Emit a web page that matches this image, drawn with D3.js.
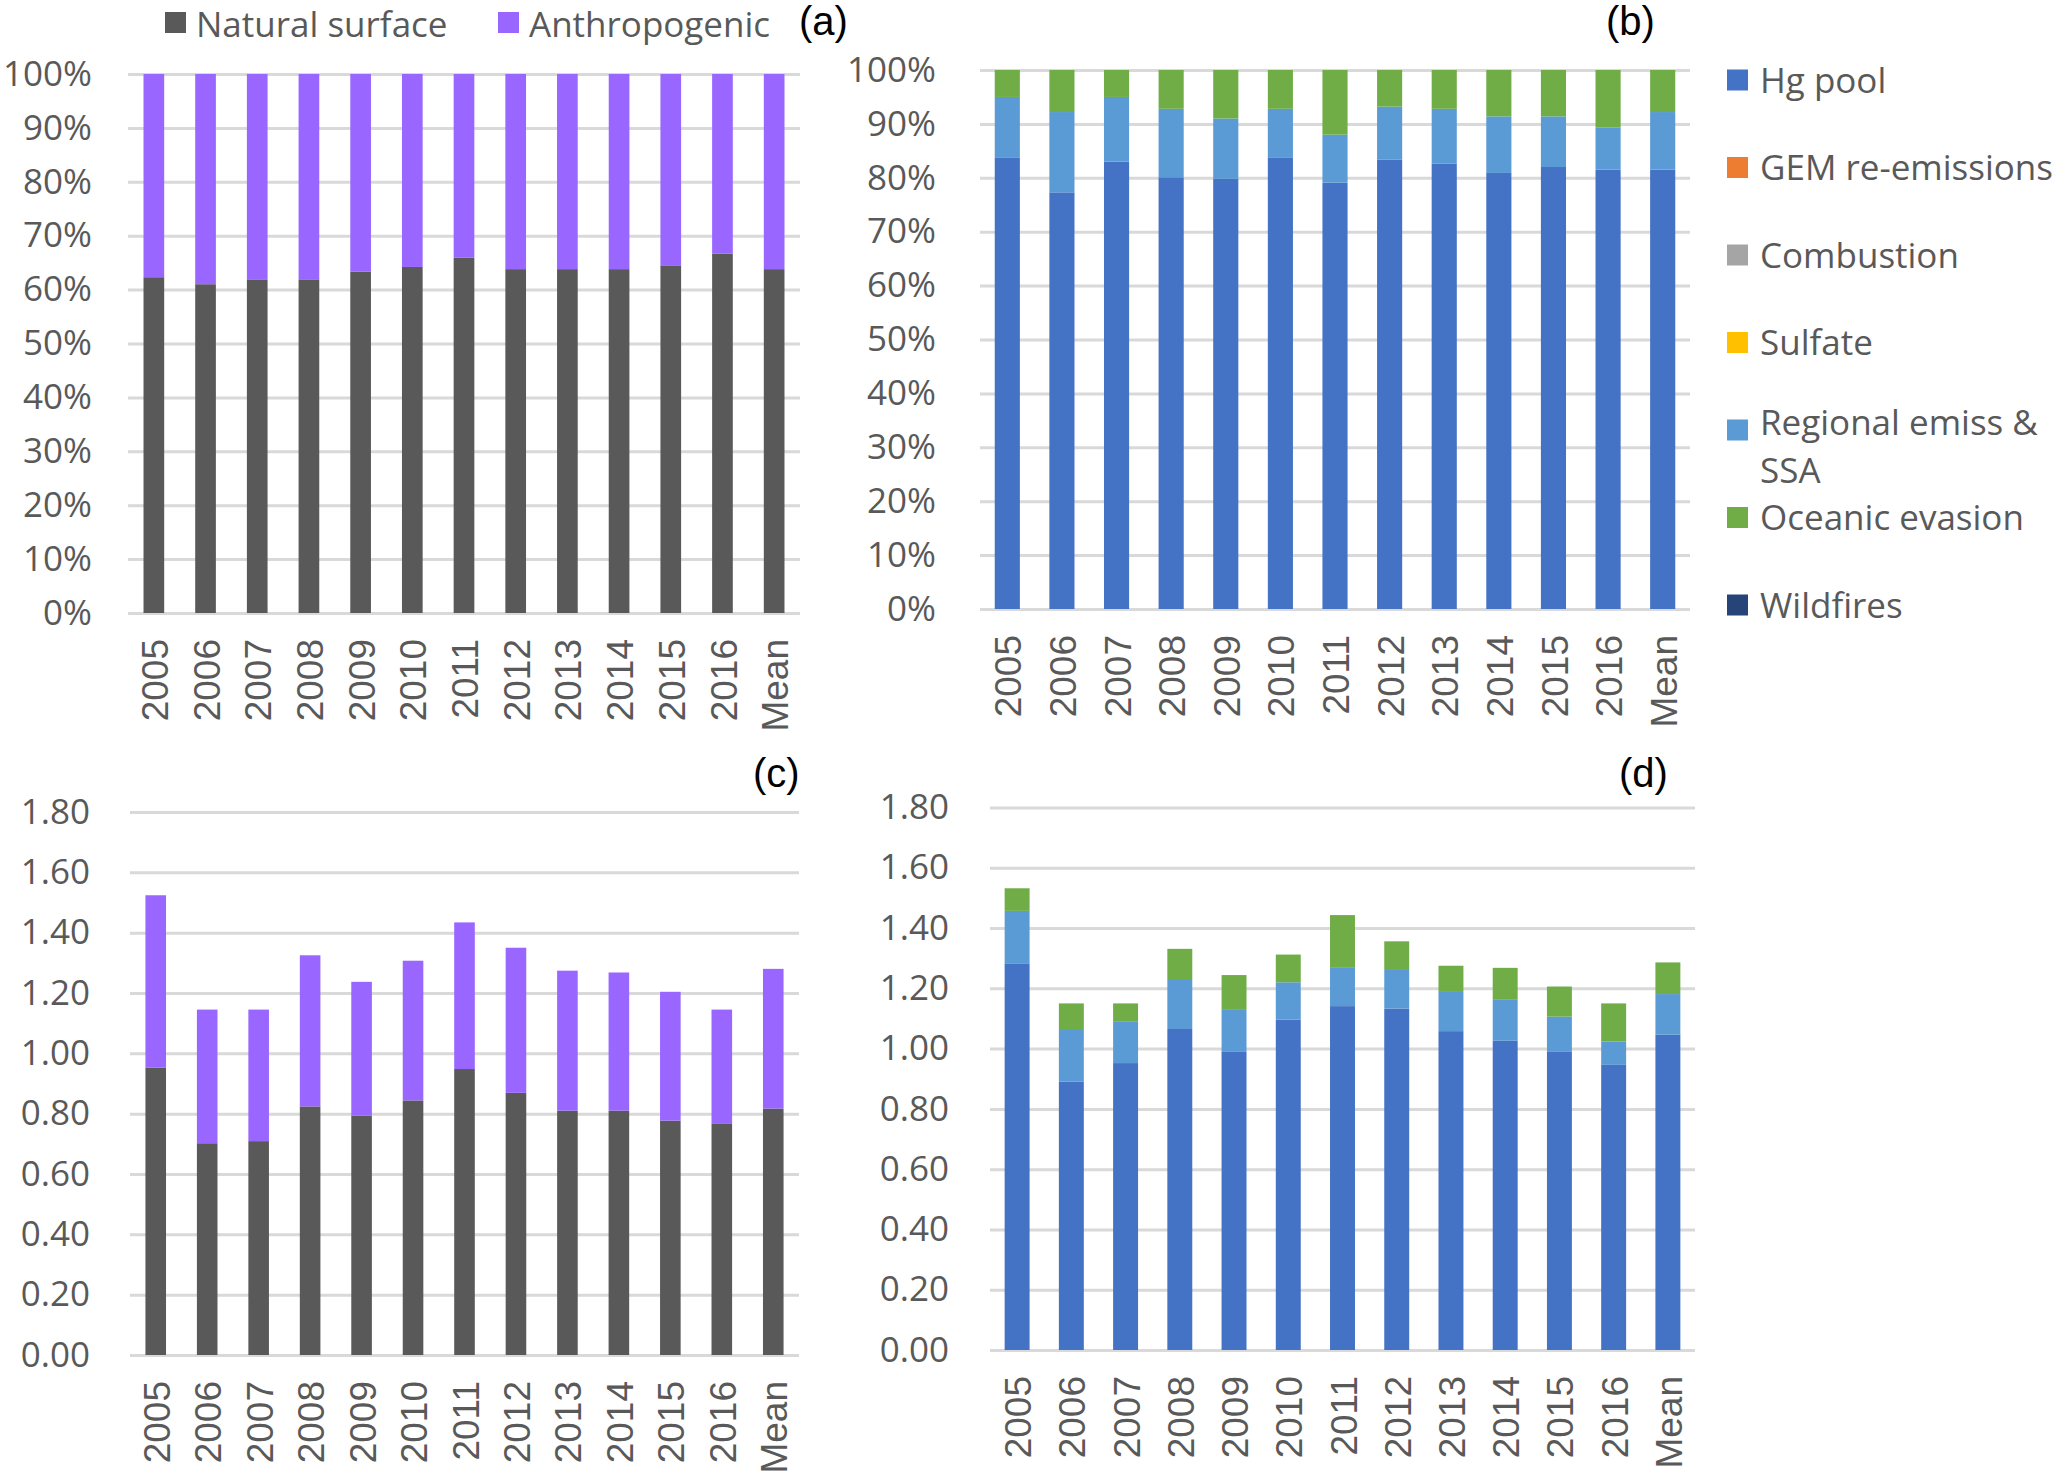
<!DOCTYPE html>
<html>
<head>
<meta charset="utf-8">
<script src="https://cdn.jsdelivr.net/npm/d3@7"></script>
<style>
  body { margin: 0; background: #fff; }
  svg { display: block; }
</style>
</head>
<body>
<svg id="chart" width="2067" height="1474"></svg>
<script>
// ── Data ─────────────────────────────────────────────────────────────────────
const years = ['2005','2006','2007','2008','2009','2010','2011','2012','2013','2014','2015','2016','Mean'];

// (a) source shares, %
const natShare  = [62.3, 61.0, 61.9, 61.9, 63.3, 64.2, 65.9, 63.8, 63.8, 63.8, 64.5, 66.7, 63.8];
const anthShare = [37.7, 39.0, 38.1, 38.1, 36.7, 35.8, 34.1, 36.2, 36.2, 36.2, 35.5, 33.3, 36.2];

// (b) process shares, %  (GEM re-emissions, combustion, sulfate, wildfires are 0)
const hgShare   = [83.8, 77.3, 83.0, 80.1, 79.8, 83.8, 79.1, 83.4, 82.6, 80.9, 82.0, 81.5, 81.5];
const regShare  = [11.2, 14.9, 12.0, 12.7, 11.2,  9.0,  8.9,  9.8, 10.2, 10.5,  9.4,  7.8, 10.7];
const oceShare  = [ 5.0,  7.8,  5.0,  7.2,  9.0,  7.2, 12.0,  6.8,  7.2,  8.6,  8.6, 10.7,  7.8];

// (c) absolute contributions
const natAbs  = [0.953, 0.702, 0.709, 0.824, 0.793, 0.844, 0.948, 0.869, 0.810, 0.810, 0.777, 0.766, 0.817];
const anthAbs = [0.571, 0.443, 0.436, 0.501, 0.444, 0.463, 0.486, 0.481, 0.464, 0.458, 0.427, 0.379, 0.463];

// (d) absolute contributions
const hgAbs  = [1.283, 0.890, 0.952, 1.065, 0.991, 1.096, 1.141, 1.133, 1.058, 1.026, 0.991, 0.946, 1.046];
const regAbs = [0.174, 0.175, 0.139, 0.166, 0.140, 0.124, 0.127, 0.131, 0.130, 0.138, 0.115, 0.078, 0.135];
const oceAbs = [0.075, 0.085, 0.059, 0.100, 0.113, 0.092, 0.175, 0.092, 0.087, 0.104, 0.100, 0.126, 0.105];

const pctTicks = [0, 10, 20, 30, 40, 50, 60, 70, 80, 90, 100];
const absTicks = [0, 0.2, 0.4, 0.6, 0.8, 1.0, 1.2, 1.4, 1.6, 1.8];

const legendA = ['Natural surface', 'Anthropogenic'];
const legendB = ['Hg pool', 'GEM re-emissions', 'Combustion', 'Sulfate', 'Regional emiss &\nSSA', 'Oceanic evasion', 'Wildfires'];

// ── Styles ────────────────────────────────────────────────────────────────────
const COL = {
  nat: '#595959', anth: '#9966ff',
  hg: '#4472c4', gem: '#ed7d31', comb: '#a5a5a5', sulf: '#ffc000',
  reg: '#5b9bd5', oce: '#70ad47', fire: '#264478'
};
const AXIS_FONT = '"Open Sans", "Noto Sans", sans-serif';
const YEAR_FONT = '"Liberation Sans", Arial, sans-serif';
const GREY = '#595959', GRID = '#d9d9d9';

const svg = d3.select('#chart');
svg.append('rect').attr('width', 2067).attr('height', 1474).attr('fill', '#fff');

// ── One stacked-column panel ─────────────────────────────────────────────────
function panel({ x0, x1, y0, y1, ticks, fmt, series, pad, labelPad, tag, tagX, tagY }) {
  const x = d3.scaleBand().domain(years).range([x0, x1]).paddingInner(pad).paddingOuter(pad / 2);
  const y = d3.scaleLinear().domain([0, d3.max(ticks)]).range([y0, y1]);
  const g = svg.append('g');

  // gridlines + value labels
  g.append('g').attr('transform', `translate(${x0},0)`)
    .call(d3.axisLeft(y).tickValues(ticks).tickFormat(fmt)
      .tickSizeInner(-(x1 - x0)).tickSizeOuter(0).tickPadding(labelPad))
    .attr('font-family', AXIS_FONT).attr('font-size', 35)
    .call(a => a.select('.domain').remove())
    .call(a => a.selectAll('.tick line').attr('stroke', GRID).attr('stroke-width', 3))
    .call(a => a.selectAll('.tick text').attr('fill', GREY));

  // stacked bars
  const rows = years.map((yr, i) => {
    const r = { year: yr };
    series.forEach(s => { r[s.key] = s.values[i]; });
    return r;
  });
  const stacked = d3.stack().keys(series.map(s => s.key))(rows);
  g.append('g').selectAll('g').data(stacked).join('g')
    .attr('fill', (d, i) => series[i].color)
    .selectAll('rect').data(d => d).join('rect')
      .attr('x', d => x(d.data.year))
      .attr('width', x.bandwidth())
      .attr('y', d => y(d[1]))
      .attr('height', d => y(d[0]) - y(d[1]));

  // rotated category labels
  g.append('g').attr('transform', `translate(0,${y0})`)
    .call(d3.axisBottom(x).tickSize(0).tickPadding(0))
    .call(a => a.select('.domain').remove())
    .selectAll('text')
      .attr('font-family', YEAR_FONT).attr('font-size', 37).attr('fill', GREY)
      .attr('transform', 'rotate(-90)')
      .attr('text-anchor', 'end')
      .attr('x', -26).attr('y', 0).attr('dy', '0.38em');

  // panel tag
  svg.append('text').attr('x', tagX).attr('y', tagY)
    .attr('font-family', YEAR_FONT).attr('font-size', 40).attr('fill', '#000')
    .text(tag);
}

const pctFmt = d => d + '%';
const absFmt = d3.format('.2f');

panel({ x0: 128, x1: 800, y0: 613, y1: 74, ticks: pctTicks, fmt: pctFmt, pad: 0.6, labelPad: 36,
  series: [{ key: 'nat', values: natShare, color: COL.nat }, { key: 'anth', values: anthShare, color: COL.anth }],
  tag: '(a)', tagX: 799, tagY: 35 });

panel({ x0: 980, x1: 1690, y0: 609, y1: 70, ticks: pctTicks, fmt: pctFmt, pad: 0.54, labelPad: 44,
  series: [{ key: 'hg', values: hgShare, color: COL.hg }, { key: 'reg', values: regShare, color: COL.reg },
           { key: 'oce', values: oceShare, color: COL.oce }],
  tag: '(b)', tagX: 1606, tagY: 35 });

panel({ x0: 130, x1: 799, y0: 1355, y1: 812, ticks: absTicks, fmt: absFmt, pad: 0.6, labelPad: 40,
  series: [{ key: 'nat', values: natAbs, color: COL.nat }, { key: 'anth', values: anthAbs, color: COL.anth }],
  tag: '(c)', tagX: 753, tagY: 787 });

panel({ x0: 990, x1: 1695, y0: 1350, y1: 807.5, ticks: absTicks, fmt: absFmt, pad: 0.54, labelPad: 41,
  series: [{ key: 'hg', values: hgAbs, color: COL.hg }, { key: 'reg', values: regAbs, color: COL.reg },
           { key: 'oce', values: oceAbs, color: COL.oce }],
  tag: '(d)', tagX: 1619, tagY: 787 });

// ── Legend (a): one row across the top ───────────────────────────────────────
const legA = svg.append('g').attr('font-family', AXIS_FONT).attr('font-size', 35).attr('fill', GREY);
const legAX = [165, 498];
legendA.forEach((name, i) => {
  legA.append('rect').attr('x', legAX[i]).attr('y', 12).attr('width', 21).attr('height', 21)
    .attr('fill', [COL.nat, COL.anth][i]);
  legA.append('text').attr('x', legAX[i] + 31).attr('y', 24).attr('dy', '0.36em').text(name);
});

// ── Legend (b): column on the right ──────────────────────────────────────────
const legColors = [COL.hg, COL.gem, COL.comb, COL.sulf, COL.reg, COL.oce, COL.fire];
const ly = d3.scalePoint().domain(legendB).range([80, 605]);
const legB = svg.append('g').attr('font-family', AXIS_FONT).attr('font-size', 35).attr('fill', GREY);
legendB.forEach((name, i) => {
  const cy = ly(name);
  legB.append('rect').attr('x', 1727).attr('y', cy - 10.5).attr('width', 21).attr('height', 21)
    .attr('fill', legColors[i]);
  const lines = name.split('\n');
  const top = lines.length > 1 ? cy - 8 : cy;   // wrapped entry sits a touch higher
  lines.forEach((line, j) => {
    legB.append('text').attr('x', 1760).attr('y', top + j * 48).attr('dy', '0.36em').text(line);
  });
});
</script>
</body>
</html>
